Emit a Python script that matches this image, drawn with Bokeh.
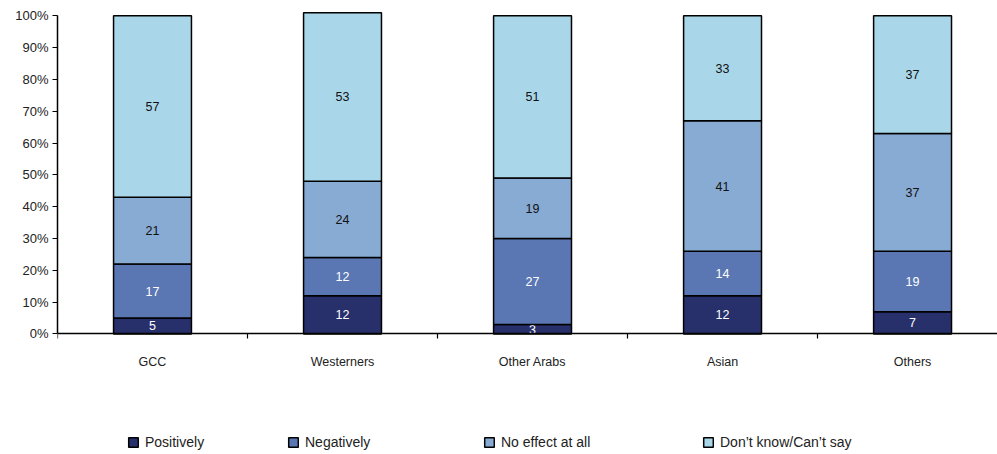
from bokeh.plotting import figure
from bokeh.models import (Range1d, FixedTicker, LinearAxis, Legend, LegendItem,
                          ColumnDataSource, CustomJSTickFormatter)
from bokeh.core.properties import value
from bokeh.embed import file_html
from bokeh.resources import INLINE

groups = ["GCC", "Westerners", "Other Arabs", "Asian", "Others"]
series = ["Positively", "Negatively", "No effect at all", "Don\u2019t know/Can\u2019t say"]
positively = [5, 12, 3, 12, 7]
negatively = [17, 12, 27, 14, 19]
no_effect = [21, 24, 19, 41, 37]
dont_know = [57, 53, 51, 33, 37]
y_ticks = [0, 10, 20, 30, 40, 50, 60, 70, 80, 90, 100]

colors = ["#27306a", "#5a77b3", "#87abd3", "#a9d7e9"]
label_colors = ["white", "white", "#111111", "#111111"]
FONT = "Liberation Sans"

values = [positively, negatively, no_effect, dont_know]
xs = [i + 0.5 for i in range(len(groups))]

# The plot area runs down to the bottom edge so the legend can sit inside it;
# the axes are pinned to y = 0 and x = 0.
p = figure(width=997, height=454, output_backend="svg", toolbar_location=None,
           x_range=Range1d(0, 4.947), y_range=Range1d(-37.9, 102),
           min_border_left=57, min_border_right=0, min_border_top=9,
           min_border_bottom=0, x_axis_location=None, y_axis_location=None)
p.outline_line_color = None
p.xgrid.visible = False
p.ygrid.visible = False

# stacked bars with value labels
bottoms = [0] * len(groups)
renderers = []
for k, vals in enumerate(values):
    tops = [b + v for b, v in zip(bottoms, vals)]
    src = ColumnDataSource(dict(x=xs, bottom=bottoms, top=tops,
                                mid=[(b + t) / 2 for b, t in zip(bottoms, tops)],
                                lab=[str(v) for v in vals]))
    r = p.vbar(x="x", bottom="bottom", top="top", width=0.41, source=src,
               fill_color=colors[k], line_color="black", line_width=1.5)
    renderers.append(r)
    p.text(x="x", y="mid", text="lab", source=src, text_align="center",
           text_baseline="middle", text_font=value(FONT),
           text_font_size="12.5px", text_color=label_colors[k])
    bottoms = tops

# y axis
yax = LinearAxis(ticker=FixedTicker(ticks=y_ticks), bounds=(0, 100))
yax.formatter = CustomJSTickFormatter(code="return tick + '%';")
yax.axis_line_color = "black"
yax.axis_line_width = 1.5
yax.major_tick_line_color = "black"
yax.major_tick_line_width = 1.2
yax.major_tick_out = 5
yax.major_tick_in = 0
yax.minor_tick_line_color = None
yax.major_label_text_font = FONT
yax.major_label_text_font_size = "13px"
yax.major_label_text_color = "#222222"
yax.major_label_standoff = 4
p.add_layout(yax, "left")

# x axis line with ticks between groups
xax = LinearAxis(ticker=FixedTicker(ticks=[0, 1, 2, 3, 4, 5]), fixed_location=0,
                 major_label_overrides={i: "" for i in range(6)})
xax.axis_line_color = "black"
xax.axis_line_width = 1.5
xax.major_tick_line_color = "black"
xax.major_tick_line_width = 1.2
xax.major_tick_out = 5
xax.major_tick_in = 0
xax.minor_tick_line_color = None
xax.major_label_text_font_size = "12px"
p.add_layout(xax, "below")

# group names centred under the bars
lab_ax = LinearAxis(ticker=FixedTicker(ticks=xs), fixed_location=0,
                    major_label_overrides={x: g for x, g in zip(xs, groups)})
lab_ax.axis_line_color = None
lab_ax.major_tick_line_color = None
lab_ax.minor_tick_line_color = None
lab_ax.major_label_text_font = FONT
lab_ax.major_label_text_font_size = "12.5px"
lab_ax.major_label_text_color = "#222222"
lab_ax.major_label_standoff = 15
p.add_layout(lab_ax, "below")

# legend: one entry per series, spread across the bottom
legend_x = [127, 287, 483, 702]
for k, r in enumerate(renderers):
    leg = Legend(items=[LegendItem(label=series[k], renderers=[r])],
                 location=(legend_x[k] - 57, 4), orientation="horizontal",
                 padding=0, margin=0, border_line_color=None,
                 background_fill_alpha=0, glyph_width=12, glyph_height=12,
                 label_height=12, label_standoff=6,
                 label_text_font=FONT, label_text_font_size="14px",
                 label_text_color="#222222")
    p.add_layout(leg, "center")

open("out.html", "w").write(file_html(p, INLINE))
